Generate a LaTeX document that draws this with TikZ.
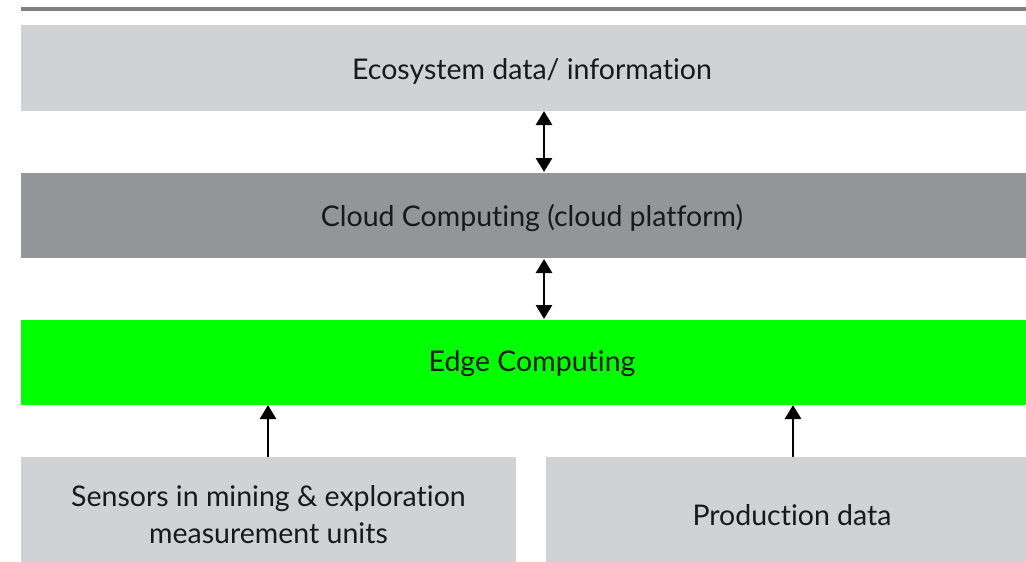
\documentclass[tikz,border=0pt]{standalone}
\usepackage{fontspec}
\setmainfont{Lato}[Ligatures={NoCommon}]
\usetikzlibrary{arrows.meta}
\definecolor{lightbox}{HTML}{D1D2D4}
\definecolor{darkbox}{HTML}{939598}
\definecolor{greenbox}{HTML}{00FF00}
\definecolor{rulegray}{HTML}{808080}
\tikzset{
  box/.style={draw=none, inner sep=0pt, align=center, font=\fontsize{28.5}{37}\selectfont, text=black!90},
  link/.style={line width=2.6pt, -{Triangle[length=14pt,width=16pt]}},
  dlink/.style={line width=2.6pt, {Triangle[length=14pt,width=16pt]}-{Triangle[length=14pt,width=16pt]}}
}
\begin{document}
\begin{tikzpicture}[x=1pt,y=-1pt]
\useasboundingbox (0,0) rectangle (1026,562);
\fill[rulegray] (21,7) rectangle (1026,11);
\fill[lightbox] (21,25) rectangle (1026,110.5);
\node[box] (eco) at (532,71) {Ecosystem data/ information};
\fill[darkbox] (21,173) rectangle (1026,258);
\node[box] (cloud) at (532,218) {Cloud Computing (cloud platform)};
\fill[greenbox] (21,319.5) rectangle (1026,405);
\node[box] (edge) at (532,364) {Edge Computing};
\fill[lightbox] (21,457) rectangle (516,562);
\node[box] (sens) at (268.5,515) {Sensors in mining \& exploration\\measurement units};
\fill[lightbox] (546,457) rectangle (1026,562);
\node[box] (prod) at (792,515) {Production data};
\coordinate (a1) at (544,111);
\coordinate (a2) at (544,172);
\coordinate (b1) at (544,259);
\coordinate (b2) at (544,319);
\coordinate (c1) at (268,457);
\coordinate (c2) at (268,405);
\coordinate (d1) at (793,457);
\coordinate (d2) at (793,405);
\draw[dlink] (a1) -- (a2);
\draw[dlink] (b1) -- (b2);
\draw[link] (c1) -- (c2);
\draw[link] (d1) -- (d2);
\end{tikzpicture}
\end{document}
